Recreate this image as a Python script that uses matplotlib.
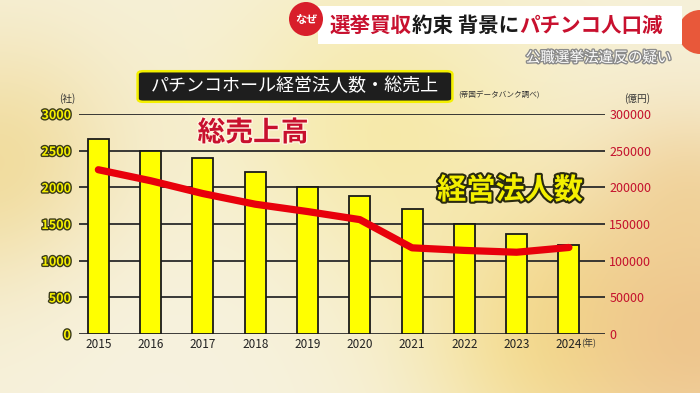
import numpy as np
import matplotlib
matplotlib.use('Agg')
import matplotlib.pyplot as plt
import matplotlib.patheffects as pe
from matplotlib.patches import FancyBboxPatch, Ellipse, Rectangle

plt.rcParams['font.family'] = ['Noto Sans CJK JP', 'DejaVu Sans']

years = ['2015', '2016', '2017', '2018', '2019', '2020', '2021', '2022', '2023', '2024']
corps = [2655, 2500, 2400, 2215, 2000, 1880, 1710, 1495, 1360, 1220]
sales = [224000, 209000, 191500, 177000, 167000, 156000, 117500, 114000, 111500, 118000]
left_ticks = [0, 500, 1000, 1500, 2000, 2500, 3000]
right_ticks = [0, 50000, 100000, 150000, 200000, 250000, 300000]

W, H = 700, 393
fig = plt.figure(figsize=(7, 3.93), dpi=100)

def fx(px):
    return px / W

def fy(py):
    return 1 - py / H

# background: warm blurred bokeh look
bg = fig.add_axes([0, 0, 1, 1])
yy, xx = np.mgrid[0:H, 0:W]
img = np.ones((H, W, 3)) * np.array([0.965, 0.945, 0.855])
def blob(cx, cy, r, col, a):
    g = np.exp(-(((xx - cx) ** 2 + (yy - cy) ** 2) / (2 * r ** 2)))[..., None] * a
    return g * (np.array(col) - img)
img += blob(0, 170, 90, [0.94, 0.84, 0.55], 0.8)
img += blob(380, 130, 110, [0.97, 0.90, 0.55], 0.6)
img += blob(560, 330, 100, [0.96, 0.86, 0.45], 0.7)
img += blob(700, 330, 110, [0.93, 0.75, 0.52], 0.85)
img += blob(690, 200, 60, [0.94, 0.80, 0.55], 0.6)
img += blob(160, 380, 120, [0.97, 0.95, 0.88], 0.7)
bg.imshow(np.clip(img, 0, 1), extent=[0, 1, 0, 1], aspect='auto')
bg.set_xlim(0, 1)
bg.set_ylim(0, 1)
bg.axis('off')

# chart area
ax = fig.add_axes([fx(79), fy(334), fx(605) - fx(79), fy(114) - fy(334)])
ax.patch.set_alpha(0)
x = np.arange(len(years))
for v in left_ticks:
    ax.axhline(v, color='#2a2a2a', lw=1.3 if v else 2.0, zorder=1)
ax.bar(x, corps, width=0.4, color='#ffff00', edgecolor='#1a1a1a', lw=1.3, zorder=2)
ax.set_xlim(-0.37, 9.69)
ax.set_ylim(0, 3000)
ax.set_yticks(left_ticks)
ax.set_xticks(x)
ax.set_xticklabels(years, fontsize=8.5, color='#222222')
for s in ax.spines.values():
    s.set_visible(False)
ax.tick_params(axis='both', length=0)
ax.tick_params(axis='x', pad=3)
ax.tick_params(axis='y', pad=6)
for lab in ax.get_yticklabels():
    lab.set_fontsize(9)
    lab.set_fontweight('bold')
    lab.set_color('#f6f000')
    lab.set_path_effects([pe.withStroke(linewidth=2, foreground='#3a3a1a')])

ax2 = ax.twinx()
ax2.plot(x, sales, color='#e8000b', lw=5.2, solid_capstyle='round', solid_joinstyle='round', zorder=3)
ax2.set_ylim(0, 300000)
ax2.set_yticks(right_ticks)
ax2.set_yticklabels([str(v) for v in right_ticks], fontsize=9, color='#c4102c')
ax2.tick_params(axis='y', length=0, pad=3)
for s in ax2.spines.values():
    s.set_visible(False)

# unit labels
fig.text(fx(67), fy(99), '(社)', fontsize=7, color='#333333', ha='center', va='center')
fig.text(fx(637), fy(99), '(億円)', fontsize=7, color='#333333', ha='center', va='center')
fig.text(fx(581), fy(343), '(年)', fontsize=6.5, color='#333333', ha='left', va='center')
fig.text(fx(458), fy(96), '(帝国データバンク調べ)', fontsize=5.5, color='#333333', ha='left', va='center')

# series labels
fig.text(fx(253), fy(133), '総売上高', fontsize=20, fontweight='bold', color='#c8102e',
         ha='center', va='center',
         path_effects=[pe.withStroke(linewidth=2, foreground='#fff4e0')])
fig.text(fx(510), fy(190), '経営法人数', fontsize=21, fontweight='bold', color='#f4f000',
         ha='center', va='center',
         path_effects=[pe.withStroke(linewidth=3, foreground='#2a2a10')])

# title box
box = FancyBboxPatch((fx(139), fy(101)), fx(451) - fx(139), fy(72) - fy(101),
                     boxstyle='round,pad=0.002,rounding_size=0.008',
                     transform=fig.transFigure, facecolor='#1e1e1e',
                     edgecolor='#f4f000', lw=1.8)
fig.add_artist(box)
fig.text(fx(295), fy(86), 'パチンコホール経営法人数・総売上', fontsize=13, color='white',
         ha='center', va='center')

# headline banner
fig.add_artist(Ellipse((fx(700), fy(32)), 44 / W, 44 / H, transform=fig.transFigure,
                       facecolor='#e8583a', edgecolor='none'))
fig.add_artist(Rectangle((fx(318), fy(44)), fx(682) - fx(318), fy(6) - fy(44),
                         transform=fig.transFigure, facecolor='white', edgecolor='none'))
fig.add_artist(Ellipse((fx(306), fy(19)), 34 / W, 34 / H, transform=fig.transFigure,
                       facecolor='#d81e2a', edgecolor='none'))
fig.text(fx(306), fy(19), 'なぜ', fontsize=8, fontweight='bold', color='white',
         ha='center', va='center')

segs = [('選挙買収', '#c8102e'), ('約束 背景に', '#1a1a1a'), ('パチンコ人口減', '#c8102e')]
r = fig.canvas.get_renderer()
xpos = fx(330)
for s, c in segs:
    t = fig.text(xpos, fy(25), s, fontsize=14.8, fontweight='bold', color=c,
                 ha='left', va='center')
    bb = t.get_window_extent(renderer=r)
    xpos = bb.x1 / fig.bbox.width

fig.text(fx(672), fy(58), '公職選挙法違反の疑い', fontsize=10.5, color='white',
         ha='right', va='center',
         path_effects=[pe.withStroke(linewidth=2, foreground='#8a8a8a')])

fig.savefig('out.png', dpi=100)
